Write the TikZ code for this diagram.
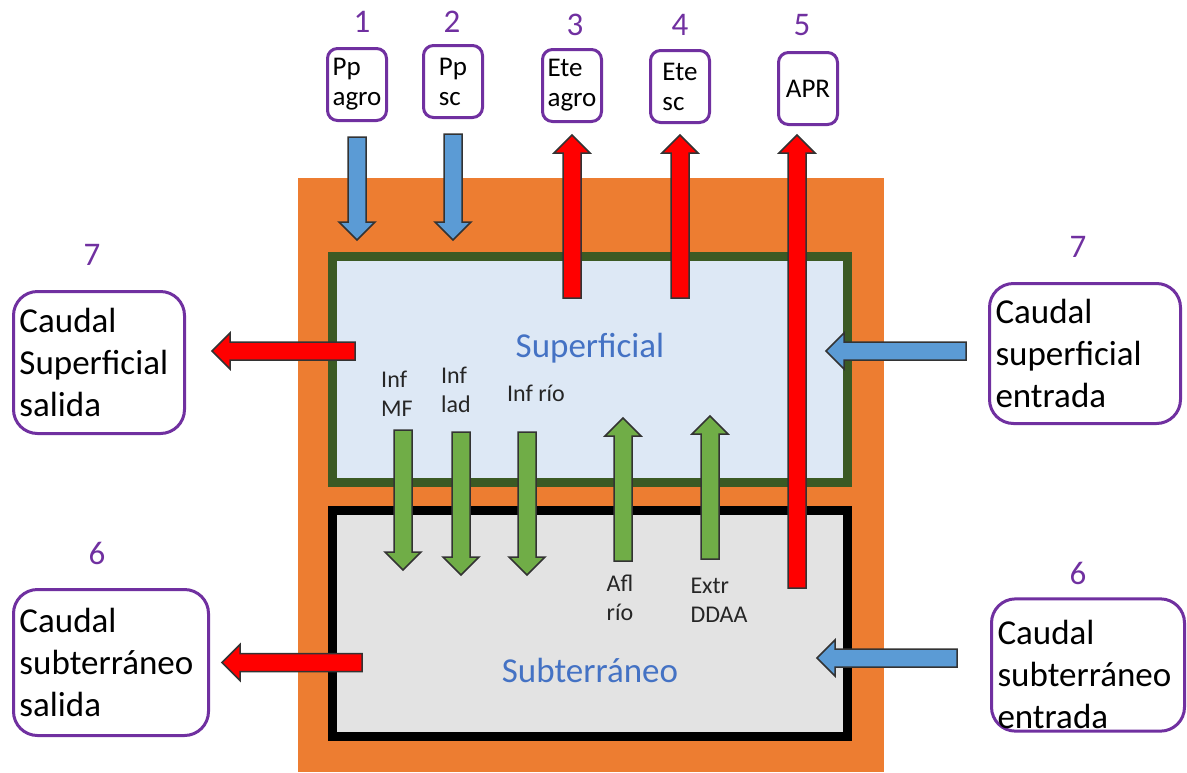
\documentclass[tikz,border=0pt]{standalone}
\usepackage{fontspec}
\setmainfont{Carlito}
\usepackage{tikz}
\usetikzlibrary{calc,positioning}
\definecolor{soilorange}{HTML}{ED7D31}
\definecolor{supgreen}{HTML}{3B5A24}
\definecolor{supfill}{HTML}{DDE8F5}
\definecolor{subfill}{HTML}{E3E3E3}
\definecolor{boxpurple}{HTML}{7030A0}
\definecolor{inblue}{HTML}{5B9BD5}
\definecolor{exgreen}{HTML}{70AD47}
\definecolor{outred}{HTML}{FF0000}
\definecolor{zoneblue}{HTML}{4472C4}

\begin{document}
\begin{tikzpicture}[x=1pt,y=-1pt,
  srcbox/.style={draw=boxpurple,line width=3pt,rounded corners=10pt,fill=white,align=left,
    minimum width=59pt,minimum height=72pt,inner sep=2pt,font=\fontsize{27}{30}\selectfont},
  sidebox/.style={draw=boxpurple,line width=3pt,rounded corners=24pt,fill=white,align=left,
    text width=#1,inner xsep=6pt,inner ysep=2pt,font=\fontsize{35}{42}\selectfont},
  num/.style={text=boxpurple,font=\fontsize{33}{36}\selectfont},
  lbl/.style={align=left,text=black!85,font=\fontsize{24}{29}\selectfont},
  zone/.style={text=zoneblue,font=\fontsize{35}{42}\selectfont},
  flow/.style={draw=black!80,line width=1.5pt,fill=#1,
    to path={-- ($(\tikztostart)!9pt!90:(\tikztotarget)$)
      -- ($(\tikztotarget)!18pt!(\tikztostart)!9pt!-90:(\tikztostart)$)
      -- ($(\tikztotarget)!18pt!(\tikztostart)!18pt!-90:(\tikztostart)$)
      -- (\tikztotarget)
      -- ($(\tikztotarget)!18pt!(\tikztostart)!18pt!90:(\tikztostart)$)
      -- ($(\tikztotarget)!18pt!(\tikztostart)!9pt!90:(\tikztostart)$)
      -- ($(\tikztostart)!9pt!-90:(\tikztotarget)$) -- cycle}}]
  \useasboundingbox (0,0) rectangle (1187,772);
  \fill[soilorange] (298,178) rectangle (884,772);
  \draw[supgreen,line width=9pt,fill=supfill] (332.5,256.5) rectangle (847.5,482.5);
  \draw[black,line width=9pt,fill=subfill] (332.5,510.5) rectangle (847.5,736.5);
  \node[zone] (suplbl) at (590,348) {Superficial};
  \node[zone] (sublbl) at (590,670) {Subterráneo};

  \node[srcbox] (ppa) at (357,84.5) {Pp\\agro};
  \node[srcbox] (pps) at (453,81.5) {Pp\\sc};
  \node[srcbox] (etea) at (572,85.5) {Ete\\agro};
  \node[srcbox] (etes) at (680,86.5) {Ete\\sc};
  \node[srcbox] (apr) at (808,88.5) {APR};
  \node[num] (n1) at (362,22) {1};
  \node[num] (n2) at (452,22) {2};
  \node[num] (n3) at (575,25) {3};
  \node[num] (n4) at (680,25) {4};
  \node[num] (n5) at (802,25) {5};

  \node[sidebox=159pt,minimum height=142pt] (sso) at (99,362.5) {Caudal\\Superficial\\salida};
  \node[sidebox=183pt,minimum height=146pt] (sbo) at (111,662.5) {Caudal\\subterráneo\\salida};
  \node[sidebox=179pt,minimum height=140pt] (sse) at (1085,353.5) {Caudal\\superficial\\entrada};
  \node[sidebox=181pt,minimum height=127pt,text height=44pt] (sbe) at (1088,665) {Caudal\\subterráneo\\entrada};
  \node[num] (n7l) at (92,255) {7};
  \node[num] (n6l) at (97,553) {6};
  \node[num] (n7r) at (1078,247) {7};
  \node[num] (n6r) at (1078,573) {6};

  \coordinate (ppa-a) at ([yshift=-15pt]ppa.south);
  \coordinate (ppa-b) at ([yshift=-118pt]ppa.south);
  \coordinate (pps-a) at ([yshift=-15pt]pps.south);
  \coordinate (pps-b) at ([yshift=-121pt]pps.south);
  \coordinate (etea-a) at ([yshift=-175pt]etea.south);
  \coordinate (etea-b) at ([yshift=-12pt]etea.south);
  \coordinate (etes-a) at ([yshift=-174pt]etes.south);
  \coordinate (etes-b) at ([yshift=-11pt]etes.south);
  \coordinate (apr-a) at ([xshift=-11pt,yshift=-462pt]apr.south);
  \coordinate (apr-b) at ([xshift=-11pt,yshift=-9pt]apr.south);
  \coordinate (sso-a) at (355,351);
  \coordinate (sso-b) at ([xshift=26pt,yshift=11.5pt]sso.east);
  \coordinate (sbo-a) at (362,662.5);
  \coordinate (sbo-b) at ([xshift=12pt]sbo.east);
  \coordinate (sse-a) at ([xshift=-22pt,yshift=2.5pt]sse.west);
  \coordinate (sse-b) at (826,351);
  \coordinate (sbe-a) at ([xshift=-33pt,yshift=7pt]sbe.west);
  \coordinate (sbe-b) at (817,658);

  \draw[flow=inblue] (ppa-a) to (ppa-b);
  \draw[flow=inblue] (pps-a) to (pps-b);
  \draw[flow=outred] (etea-a) to (etea-b);
  \draw[flow=outred] (etes-a) to (etes-b);
  \draw[flow=outred] (apr-a) to (apr-b);
  \draw[flow=outred] (sso-a) to (sso-b);
  \draw[flow=outred] (sbo-a) to (sbo-b);
  \draw[flow=inblue] (sse-a) to (sse-b);
  \draw[flow=inblue] (sbe-a) to (sbe-b);

  \node[lbl] (infmf) at (397,394) {Inf\\MF};
  \node[lbl] (inflad) at (456,390) {Inf\\lad};
  \node[lbl] (infrio) at (536,393) {Inf río};
  \node[lbl] (aflrio) at (620,598) {Afl\\río};
  \node[lbl] (extr) at (719,600) {Extr\\DDAA};
  \coordinate (mf-a) at (403,430);
  \coordinate (mf-b) at (403,570);
  \coordinate (lad-a) at (461,432);
  \coordinate (lad-b) at (461,575);
  \coordinate (rio-a) at (527,432);
  \coordinate (rio-b) at (527,575);
  \coordinate (afl-a) at (623,561);
  \coordinate (afl-b) at (623,418);
  \coordinate (ddaa-a) at (710,559);
  \coordinate (ddaa-b) at (710,416);
  \draw[flow=exgreen] (mf-a) to (mf-b);
  \draw[flow=exgreen] (lad-a) to (lad-b);
  \draw[flow=exgreen] (rio-a) to (rio-b);
  \draw[flow=exgreen] (afl-a) to (afl-b);
  \draw[flow=exgreen] (ddaa-a) to (ddaa-b);
\end{tikzpicture}
\end{document}
